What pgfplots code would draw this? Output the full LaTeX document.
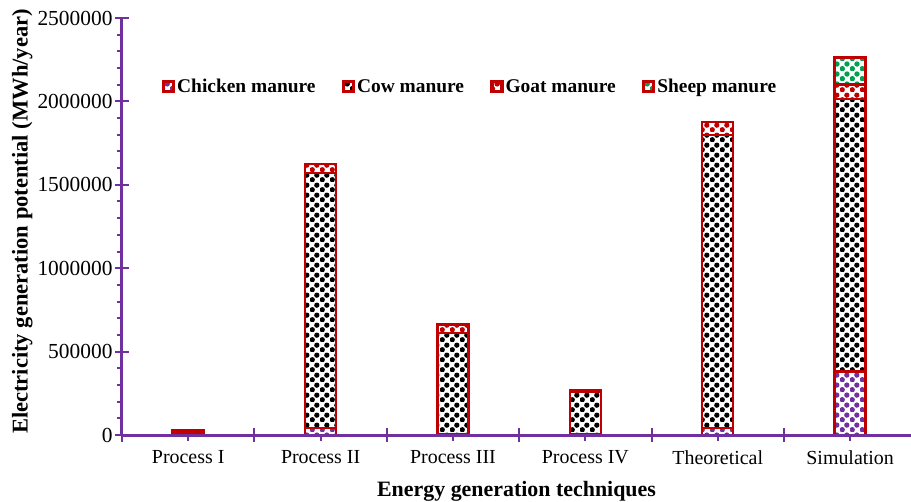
\documentclass[border=0pt]{standalone}
\usepackage{pgfplots}
\pgfplotsset{compat=1.18}
\usepackage{fontspec}
\setmainfont{Liberation Serif}
\usetikzlibrary{patterns}

\definecolor{axpurple}{HTML}{7030A0}
\definecolor{barred}{HTML}{C00000}
\definecolor{sheepgreen}{HTML}{00A050}

% checkerboard of round dots
\pgfdeclarepatternformonly{balls}{\pgfpointorigin}{\pgfpoint{10bp}{10bp}}{\pgfpoint{10bp}{10bp}}{%
  \pgfpathcircle{\pgfpoint{2.5bp}{2.5bp}}{2.9bp}%
  \pgfpathcircle{\pgfpoint{7.5bp}{7.5bp}}{2.9bp}%
  \pgfusepath{fill}%
}

\pgfplotstableread{
x chicken cow goat sheep
0 3000 18000 9000 0
1 42000 1530000 54000 0
2 3000 610000 50000 0
3 2000 258000 7000 0
4 42000 1758000 78000 0
5 380000 1634000 86000 162000
}\energydata

\begin{document}
\begin{tikzpicture}
\begin{axis}[
  name=ax,
  scale only axis,
  width=789bp, height=417bp,
  ybar stacked,
  bar width=31bp,
  xmin=-0.5, xmax=5.46,
  ymin=0, ymax=2500000,
  axis x line*=bottom, axis y line*=left,
  axis line style={axpurple, line width=3bp},
  every tick/.style={axpurple, line width=2bp},
  tick align=outside,
  major tick length=6bp,
  minor tick length=5bp,
  xtick={0,...,5},
  xticklabels={Process I, Process II, Process III, Process IV, Theoretical, Simulation},
  extra x ticks={-0.5,0.5,1.5,2.5,3.5,4.5},
  extra x tick labels={},
  extra x tick style={tick align=center, major tick length=14bp},
  ytick={0,500000,...,2500000},
  minor y tick num=4,
  extra y ticks={0,500000,1000000,1500000,2000000,2500000},
  extra y tick labels={},
  extra y tick style={tick align=center, major tick length=14bp},
  scaled y ticks=false,
  yticklabel style={/pgf/number format/fixed, /pgf/number format/1000 sep={},
    font=\fontsize{21.5}{24}\selectfont},
  /pgf/number format/assume math mode=true,
  tick label style={text=black},
  xticklabel style={yshift=-6bp, font=\fontsize{20}{22}\selectfont},
  xlabel={\textbf{Energy generation techniques}},
  ylabel={\textbf{Electricity generation potential (MWh/year)}},
  xlabel style={font=\fontsize{22}{24}\selectfont, yshift=3bp},
  ylabel style={font=\fontsize{22.6}{24}\selectfont,
    at={(ticklabel cs:0.512)}, yshift=-15bp},
  axis on top,
  legend style={at={(rel axis cs:0.441,0.835)}, anchor=center, draw=none,
    fill=none, font=\fontsize{19.5}{22}\selectfont\bfseries,
    legend columns=4,
    /tikz/every even column/.append style={column sep=24bp}},
  legend image code/.code={%
    \draw[#1, line width=3.5bp] (0.5bp,-4.5bp) rectangle (10.5bp,5.5bp);},
]
\addplot[draw=barred, line width=2.5bp, pattern=balls, pattern color=axpurple]
  table[x=x, y=chicken] {\energydata};
\addlegendentry{Chicken manure}
\addplot[draw=barred, line width=2.5bp, pattern=balls, pattern color=black]
  table[x=x, y=cow] {\energydata};
\addlegendentry{Cow manure}
\addplot[draw=barred, line width=2.5bp, pattern=balls, pattern color=barred]
  table[x=x, y=goat] {\energydata};
\addlegendentry{Goat manure}
\addplot[draw=barred, line width=2.5bp, pattern=balls, pattern color=sheepgreen]
  table[x=x, y=sheep] {\energydata};
\addlegendentry{Sheep manure}
\end{axis}
\pgfresetboundingbox
\path[use as bounding box] ([xshift=-122bp,yshift=-66bp]ax.south west) rectangle ([yshift=18bp]ax.north east);
\end{tikzpicture}
\end{document}
